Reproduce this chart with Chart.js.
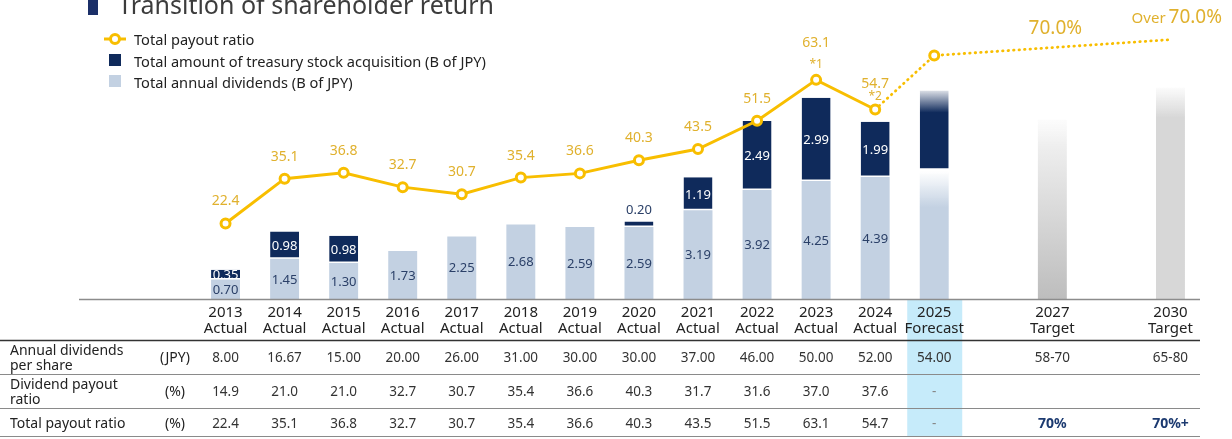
<!DOCTYPE html>
<html>
<head>
<meta charset="utf-8">
<script src="https://cdn.jsdelivr.net/npm/chart.js@4.4.1/dist/chart.umd.min.js"></script>
<style>
  html, body { margin: 0; padding: 0; background: #fff; }
  #wrap { position: relative; width: 1232px; height: 439px; overflow: hidden; font-family: "Noto Sans", sans-serif; }
  #chart { position: absolute; left: 0; top: 0; }
  #title { position: absolute; left: 118px; top: -13px; font-size: 25px; line-height: 34px; color: #3c3c3c; white-space: nowrap; }
  #titleMark { position: absolute; left: 88px; top: 0; width: 10px; height: 15px; background: #1b2f68; }
  .leg { position: absolute; left: 134px; font-size: 14.6px; line-height: 18px; color: #222; white-space: nowrap; }
  .sw { position: absolute; left: 109px; width: 12px; height: 12px; }
</style>
</head>
<body>
<div id="wrap">
  <canvas id="chart" width="1232" height="439"></canvas>
  <div id="titleMark"></div>
  <div id="title">Transition of shareholder return</div>
  <svg style="position:absolute;left:103px;top:32px" width="24" height="14">
    <line x1="1" y1="7" x2="23" y2="7" stroke="#f8be00" stroke-width="3"/>
    <circle cx="12" cy="7" r="4.5" fill="#fff" stroke="#f8be00" stroke-width="3"/>
  </svg>
  <div class="leg" style="top:30px">Total payout ratio</div>
  <div class="sw" style="top:54px;background:#0f2a5b"></div>
  <div class="leg" style="top:52px">Total amount of treasury stock acquisition (B of JPY)</div>
  <div class="sw" style="top:75px;background:#c3d1e2"></div>
  <div class="leg" style="top:73px">Total annual dividends (B of JPY)</div>
</div>
<script>
// categories (empty slots keep the gaps between 2025, 2027 and 2030)
const years = ['2013', '2014', '2015', '2016', '2017', '2018', '2019', '2020', '2021', '2022', '2023', '2024', '2025', '', '2027', '', '2030'];
const phases = ['Actual', 'Actual', 'Actual', 'Actual', 'Actual', 'Actual', 'Actual', 'Actual', 'Actual', 'Actual', 'Actual', 'Actual', 'Forecast', '', 'Target', '', 'Target'];

// B of JPY
const dividends = [0.70, 1.45, 1.30, 1.73, 2.25, 2.68, 2.59, 2.59, 3.19, 3.92, 4.25, 4.39, 4.60, null, null, null, null];
const buybacks = [0.35, 0.98, 0.98, null, null, null, null, 0.20, 1.19, 2.49, 2.99, 1.99, 2.90, null, null, null, null];
const targets = [null, null, null, null, null, null, null, null, null, null, null, null, null, null, 6.45, null, 7.60];

// total payout ratio (%)
const payout = [22.4, 35.1, 36.8, 32.7, 30.7, 35.4, 36.6, 40.3, 43.5, 51.5, 63.1, 54.7, null, null, null, null, null];
const payoutOutlook = [null, null, null, null, null, null, null, null, null, null, null, 54.7, 70.0, null, null, null, 74.5];
const payoutNotes = ['', '', '', '', '', '', '', '', '', '', '*1', '*2', '', '', '', '', ''];
const outlookText = ['', '', '', '', '', '', '', '', '', '', '', '', '', '', '70.0%', '', '70.0%'];

// table rows
const dpsRow = ['8.00', '16.67', '15.00', '20.00', '26.00', '31.00', '30.00', '30.00', '37.00', '46.00', '50.00', '52.00', '54.00', '', '58-70', '', '65-80'];
const dividendPayoutRow = ['14.9', '21.0', '21.0', '32.7', '30.7', '35.4', '36.6', '40.3', '31.7', '31.6', '37.0', '37.6', '-', '', '', '', ''];
const totalPayoutRow = ['22.4', '35.1', '36.8', '32.7', '30.7', '35.4', '36.6', '40.3', '43.5', '51.5', '63.1', '54.7', '-', '', '70%', '', '70%+'];

const FONT = '"Noto Sans", sans-serif';
const NAVY = '#0f2a5b';
const LIGHT = '#c3d1e2';
const GOLD = '#f8be00';
const GOLD_TEXT = '#e0b12e';

function vGrad(chart, y0, y1, stops) {
  const g = chart.ctx.createLinearGradient(0, y0, 0, y1);
  stops.forEach(s => g.addColorStop(s[0], s[1]));
  return g;
}

function dividendColor(c) {
  const y = c.chart.scales.y;
  if (c.dataIndex !== 12 || !y) return LIGHT;
  const top = y.getPixelForValue(dividends[12]);
  return vGrad(c.chart, top, top + 36, [[0, 'rgba(195,209,226,0)'], [1, LIGHT]]);
}

function buybackColor(c) {
  const y = c.chart.scales.y;
  if (c.dataIndex !== 12 || !y) return NAVY;
  const top = y.getPixelForValue(dividends[12] + buybacks[12]);
  return vGrad(c.chart, top, top + 22, [[0, 'rgba(15,42,91,0.15)'], [1, NAVY]]);
}

function targetColor(c) {
  const y = c.chart.scales.y;
  if (!y || targets[c.dataIndex] == null) return '#d6d6d6';
  const top = y.getPixelForValue(targets[c.dataIndex]);
  const bottom = y.getPixelForValue(0);
  if (c.dataIndex === 14) {
    return vGrad(c.chart, top, bottom, [[0, 'rgba(240,240,240,0.2)'], [0.15, '#eeeeee'], [1, '#bdbdbd']]);
  }
  return vGrad(c.chart, top, top + 30, [[0, 'rgba(216,216,216,0.1)'], [1, '#d7d7d7']]);
}

const backdrop = {
  id: 'backdrop',
  beforeDraw(chart) {
    const { ctx } = chart;
    const x = chart.scales.x.getPixelForValue(12);
    ctx.save();
    ctx.fillStyle = '#c6ebfa';
    ctx.fillRect(x - 27, 299, 55, 137);
    ctx.restore();
  }
};

const valueLabels = {
  id: 'valueLabels',
  afterDatasetsDraw(chart) {
    const { ctx } = chart;
    ctx.save();
    ctx.textAlign = 'center';
    ctx.textBaseline = 'middle';
    ctx.font = '13px ' + FONT;
    [[0, dividends, '#2b4068'], [1, buybacks, '#ffffff']].forEach(([di, arr, color]) => {
      chart.getDatasetMeta(di).data.forEach((bar, i) => {
        if (i > 11 || !arr[i]) return;
        const p = bar.getProps(['x', 'y', 'base'], true);
        const h = Math.abs(p.base - p.y);
        if (h < 8) {
          ctx.fillStyle = '#2b4068';
          ctx.fillText(arr[i].toFixed(2), p.x, p.y - 11);
        } else {
          ctx.fillStyle = color;
          ctx.fillText(arr[i].toFixed(2), p.x, (p.y + p.base) / 2 + 1);
        }
      });
    });

    // payout ratio labels
    const meta = chart.getDatasetMeta(3);
    ctx.fillStyle = GOLD_TEXT;
    ctx.textBaseline = 'alphabetic';
    meta.data.forEach((pt, i) => {
      if (payout[i] == null) return;
      let off = 18;
      if (payoutNotes[i]) {
        off = i === 10 ? 33 : 22;
        ctx.font = '12px ' + FONT;
        ctx.fillText(payoutNotes[i], pt.x, pt.y - (i === 10 ? 12 : 10));
      }
      ctx.font = '14px ' + FONT;
      ctx.fillText(payout[i].toFixed(1), pt.x, pt.y - off);
    });

    // outlook labels
    const x = chart.scales.x, y2 = chart.scales.y2;
    ctx.font = '19px ' + FONT;
    ctx.fillText(outlookText[14], x.getPixelForValue(14) + 3, y2.getPixelForValue(70) - 22);
    ctx.textAlign = 'right';
    const right = 1222;
    const yy = y2.getPixelForValue(payoutOutlook[16]) - 17;
    ctx.fillText(outlookText[16], right, yy);
    const w = ctx.measureText(outlookText[16] + ' ').width;
    ctx.font = '15px ' + FONT;
    ctx.fillText('Over', right - w + 2, yy);
    ctx.restore();
  }
};

const table = {
  id: 'table',
  afterDraw(chart) {
    const { ctx } = chart;
    const x = chart.scales.x;
    ctx.save();
    // axis base line
    ctx.strokeStyle = '#8c8c8c';
    ctx.lineWidth = 1.5;
    ctx.beginPath(); ctx.moveTo(79, 299.5); ctx.lineTo(1200, 299.5); ctx.stroke();
    // row rules
    ctx.strokeStyle = '#333';
    ctx.lineWidth = 1.5;
    ctx.beginPath(); ctx.moveTo(0, 340.5); ctx.lineTo(1200, 340.5); ctx.stroke();
    ctx.strokeStyle = '#8a8a8a';
    ctx.lineWidth = 1;
    [374.5, 408.5, 436.5].forEach(y => { ctx.beginPath(); ctx.moveTo(0, y); ctx.lineTo(1200, y); ctx.stroke(); });

    ctx.fillStyle = '#222';
    ctx.font = '14px ' + FONT;
    ctx.textBaseline = 'middle';
    ctx.textAlign = 'left';
    ctx.fillText('Annual dividends', 10, 351);
    ctx.fillText('per share', 10, 366);
    ctx.fillText('Dividend payout', 10, 385);
    ctx.fillText('ratio', 10, 400);
    ctx.fillText('Total payout ratio', 10, 424);
    ctx.textAlign = 'center';
    ctx.fillText('(JPY)', 175, 358);
    ctx.fillText('(%)', 175, 392);
    ctx.fillText('(%)', 175, 424);

    [[dpsRow, 358], [dividendPayoutRow, 392], [totalPayoutRow, 424]].forEach(([row, y]) => {
      row.forEach((t, i) => {
        if (!t) return;
        const px = x.getPixelForValue(i);
        if (i >= 14 && row === totalPayoutRow) {
          ctx.font = 'bold 14px ' + FONT;
          ctx.fillStyle = '#1c3a70';
        } else if (t === '-') {
          ctx.font = '13.5px ' + FONT;
          ctx.fillStyle = '#888';
        } else {
          ctx.font = '13.5px ' + FONT;
          ctx.fillStyle = '#333';
        }
        ctx.fillText(t, px, y);
      });
    });
    ctx.restore();
  }
};

new Chart(document.getElementById('chart'), {
  type: 'bar',
  data: {
    labels: years.map((y, i) => y ? [y, phases[i]] : ''),
    datasets: [
      {
        label: 'Total annual dividends (B of JPY)',
        data: dividends,
        backgroundColor: dividendColor,
        borderWidth: 0,
        stack: 's',
        order: 1
      },
      {
        label: 'Total amount of treasury stock acquisition (B of JPY)',
        data: buybacks,
        backgroundColor: buybackColor,
        borderColor: '#ffffff',
        borderWidth: c => ({ top: 0, left: 0, right: 0, bottom: c.dataIndex === 12 ? 3 : 1.5 }),
        borderSkipped: false,
        stack: 's',
        order: 1
      },
      {
        label: 'Target',
        data: targets,
        backgroundColor: targetColor,
        borderWidth: 0,
        stack: 's',
        order: 1
      },
      {
        type: 'line',
        label: 'Total payout ratio',
        data: payout,
        yAxisID: 'y2',
        borderColor: GOLD,
        borderWidth: 3,
        pointRadius: 4.5,
        pointBorderWidth: 3,
        pointBackgroundColor: '#fff',
        pointBorderColor: GOLD,
        tension: 0,
        order: 0
      },
      {
        type: 'line',
        label: 'Outlook',
        data: payoutOutlook,
        yAxisID: 'y2',
        borderColor: GOLD,
        borderWidth: 2.8,
        borderDash: [0.5, 5],
        borderCapStyle: 'round',
        spanGaps: true,
        pointRadius: payoutOutlook.map((v, i) => i === 12 ? 4.5 : 0),
        pointBorderWidth: 3,
        pointBackgroundColor: '#fff',
        pointBorderColor: GOLD,
        order: 0
      }
    ]
  },
  options: {
    responsive: false,
    animation: false,
    layout: { padding: { left: 196, right: 32, top: 10, bottom: 0 } },
    datasets: { bar: { categoryPercentage: 1, barPercentage: 0.49 } },
    plugins: { legend: { display: false }, tooltip: { enabled: false } },
    scales: {
      x: {
        stacked: true,
        grid: { display: false, drawTicks: false },
        border: { display: false },
        ticks: { color: '#222', font: { family: FONT, size: 15, lineHeight: 1.1 }, padding: 5, autoSkip: false, maxRotation: 0 },
        afterFit: s => { s.height = 140; }
      },
      y: { stacked: true, display: false, min: 0, max: 10.4 },
      y2: { display: false, min: 1, max: 82.9 }
    }
  },
  plugins: [backdrop, valueLabels, table]
});
</script>
</body>
</html>
